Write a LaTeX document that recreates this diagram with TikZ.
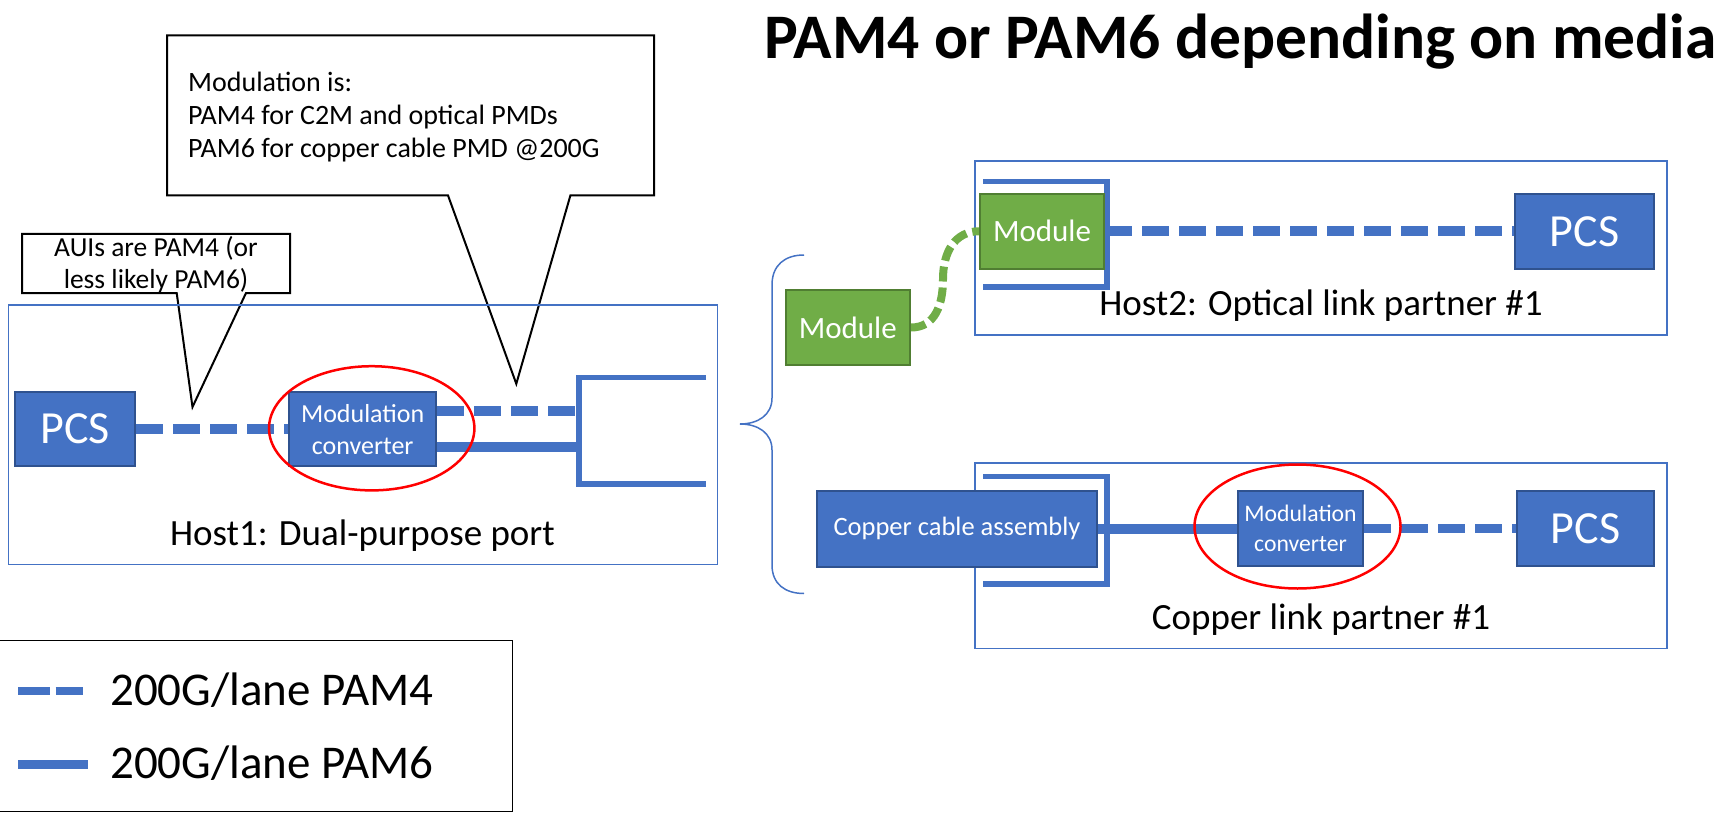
\documentclass[tikz,border=0pt]{standalone}
\usepackage{fontspec}
\setmainfont{Carlito}
\usetikzlibrary{shapes.geometric}
\pgfdeclarelayer{back}
\pgfdeclarelayer{mid}
\pgfsetlayers{back,mid,main}
\definecolor{accent}{HTML}{4472C4}
\definecolor{accdark}{HTML}{2F528F}
\definecolor{grn}{HTML}{70AD47}
\definecolor{grndark}{HTML}{507E32}
\newcommand\fsz[2]{\fontsize{#1pt}{#2pt}\selectfont}
\tikzset{
  blockbox/.style={draw=accdark, fill=accent, line width=2pt, text=white, inner sep=0pt, align=center},
  greenbox/.style={draw=grndark, fill=grn, line width=2pt, text=white, inner sep=0pt},
  hostframe/.style={draw=accent, line width=1.5pt, inner sep=0pt},
  pamfour/.style={draw=accent, line width=9.5pt, dash pattern=on 27pt off 10pt},
  pamsix/.style={draw=accent, line width=10pt},
  portline/.style={draw=accent, line width=5.5pt, line join=miter},
  greenlink/.style={draw=grn, line width=8pt, dash pattern=on 15pt off 6pt},
  redring/.style={draw=red, line width=2.5pt, ellipse, inner sep=0pt},
  callout/.style={draw=black, fill=white, line width=2pt, line join=miter},
  lbl/.style={inner sep=0pt, anchor=base},
  lblw/.style={inner sep=0pt, anchor=base west},
}
\begin{document}
\begin{tikzpicture}[x=1pt,y=-1pt]
\useasboundingbox (0,0) rectangle (1724,813);

% ---------- title ----------
\node[lblw, font=\fsz{63.5}{70}\bfseries] (title) at (764,59) {PAM4 or PAM6 depending on media};

% ---------- callouts ----------
\begin{pgfonlayer}{back}
\draw[callout] (167,35.4) -- (654,35.4) -- (654,195.4) -- (570.4,195.4)
  -- (516.3,383.8) -- (448,195.4) -- (167,195.4) -- cycle;
\draw[callout] (22,234) -- (290,234) -- (290,293) -- (246,293)
  -- (192.5,407) -- (176.7,293) -- (22,293) -- cycle;
\end{pgfonlayer}
\node[lblw, font=\fsz{28}{33}] (noteA) at (188,91.5) {Modulation is:};
\node[lblw, font=\fsz{28}{33}] (noteB) at (188,125) {PAM4 for C2M and optical PMDs};
\node[lblw, font=\fsz{28}{33}] (noteC) at (188,157.7) {PAM6 for copper cable PMD @200G};
\node[lbl, font=\fsz{27.5}{32}] (auiA) at (156,256) {AUIs are PAM4 (or};
\node[lbl, font=\fsz{27.5}{32}] (auiB) at (156,288.5) {less likely PAM6)};

% ---------- Host1 ----------
\begin{pgfonlayer}{mid}
\node[hostframe, minimum width=709.3pt, minimum height=259.6pt] (host1) at (362.95,434.8) {};
\end{pgfonlayer}
\node[blockbox, minimum width=120pt, minimum height=74.5pt, font=\fsz{46}{50}] (pcs1) at (75,429.2) {PCS};
\node[blockbox, minimum width=147.5pt, minimum height=74.5pt, font=\fsz{26}{32}] (conv1) at (362.7,429.2) {Modulation\\converter};
\coordinate (p1t) at (706,377.7);
\coordinate (p1b) at (706,483.8);
\coordinate (p1u) at (579,410.8);
\coordinate (p1l) at (579,447.3);
\begin{pgfonlayer}{mid}
\draw[portline] (p1t) -- (579,377.7) -- (579,483.8) -- (p1b);
\draw[pamfour] (pcs1.east) -- (conv1.west);
\draw[pamfour] (conv1.east |- p1u) -- (p1u);
\draw[pamsix] (conv1.east |- p1l) -- (p1l);
\end{pgfonlayer}
\node[redring, minimum width=205.4pt, minimum height=124.2pt] (ring1) at (371.7,428.3) {};
\node[lbl, font=\fsz{37}{40}] (host1label) at (362.5,545.4) {Host1: Dual-purpose port};

% ---------- brace ----------
\draw[accent, line width=1.5pt] (804,255) .. controls (785,255) and (772,265) .. (772,285)
  -- (772,398) .. controls (772,415) and (758,424) .. (740,424)
  .. controls (758,424) and (772,433) .. (772,450)
  -- (772,565) .. controls (772,584) and (785,593.5) .. (804,593.5);

% ---------- Host2: optical ----------
\begin{pgfonlayer}{mid}
\node[hostframe, minimum width=692pt, minimum height=174pt] (host2) at (1321,248) {};
\end{pgfonlayer}
\node[greenbox, minimum width=124.5pt, minimum height=75pt, font=\fsz{31}{34}] (mod1) at (847.75,327.5) {Module};
\node[greenbox, minimum width=124pt, minimum height=74.5pt, font=\fsz{31}{34}] (mod2) at (1042,231.25) {Module};
\node[blockbox, minimum width=139pt, minimum height=75.3pt, font=\fsz{46}{50}] (pcs2) at (1584.5,231.25) {PCS};
\coordinate (p2t) at (983,181.5);
\coordinate (p2b) at (983,287);
\begin{pgfonlayer}{mid}
\draw[portline] (p2t) -- (1107,181.5) -- (1107,287) -- (p2b);
\draw[pamfour] (mod2.east) -- (pcs2.west);
\draw[greenlink] (mod1.east) .. controls (935,327.5) and (943,305) .. (943,279)
  .. controls (943,252) and (955,231.25) .. (mod2.west);
\end{pgfonlayer}
\node[lbl, font=\fsz{37}{40}] (host2label) at (1321,315.6) {Host2: Optical link partner \#1};

% ---------- copper link partner ----------
\begin{pgfonlayer}{mid}
\node[hostframe, minimum width=692pt, minimum height=185.9pt] (host3) at (1321,555.75) {};
\end{pgfonlayer}
\node[blockbox, minimum width=280pt, minimum height=76pt, font=\fsz{26.5}{30}] (cca) at (957,528.5) {Copper cable assembly};
\node[blockbox, minimum width=125pt, minimum height=75pt, font=\fsz{23.7}{29.3}] (conv2) at (1300.5,528.5) {Modulation\\converter};
\node[blockbox, minimum width=137pt, minimum height=75.5pt, font=\fsz{46}{50}] (pcs3) at (1585.5,528.5) {PCS};
\coordinate (p3t) at (983,476.4);
\coordinate (p3b) at (983,584);
\begin{pgfonlayer}{mid}
\draw[portline] (p3t) -- (1107,476.4) -- (1107,584) -- (p3b);
\draw[pamsix] (cca.east) -- (conv2.west);
\draw[pamfour] (conv2.east) -- (pcs3.west);
\end{pgfonlayer}
\node[redring, minimum width=206pt, minimum height=124pt] (ring2) at (1297.5,526.5) {};
\node[lbl, font=\fsz{37}{40}] (host3label) at (1321,629.7) {Copper link partner \#1};

% ---------- legend ----------
\node[draw=black, line width=1.5pt, inner sep=0pt, minimum width=517.7pt, minimum height=171pt] (legend) at (253.85,726.2) {};
\coordinate (lgA1) at (18.3,690.7);
\coordinate (lgA2) at (83.3,690.7);
\coordinate (lgB1) at (18.3,764);
\coordinate (lgB2) at (88.3,764);
\draw[draw=accent, line width=8pt, dash pattern=on 31.7pt off 5.7pt] (lgA1) -- (lgA2);
\draw[draw=accent, line width=9pt] (lgB1) -- (lgB2);
\node[lblw, font=\fsz{47}{52}] (lgtxtA) at (110,705) {200G/lane PAM4};
\node[lblw, font=\fsz{47}{52}] (lgtxtB) at (110,778.3) {200G/lane PAM6};
\end{tikzpicture}
\end{document}
